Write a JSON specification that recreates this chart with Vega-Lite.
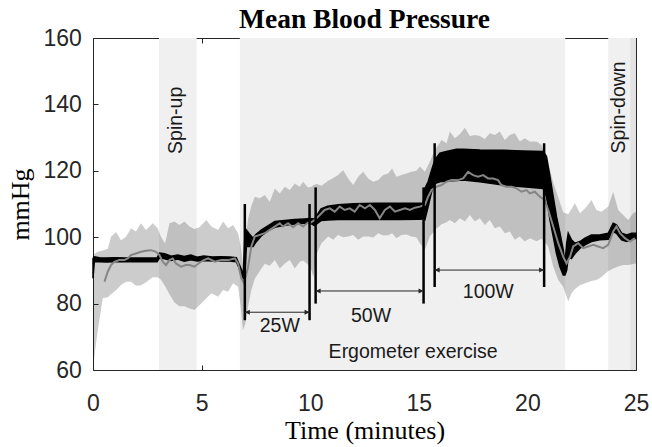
{
  "$schema": "https://vega.github.io/schema/vega-lite/v6.json",
  "width": 543,
  "height": 332,
  "autosize": "none",
  "padding": {"left": 93, "top": 38, "right": 16, "bottom": 77},
  "background": "white",
  "title": {"text": "Mean Blood Pressure", "font": "Liberation Serif", "fontSize": 27.5, "fontWeight": "bold", "color": "black", "anchor": "middle", "frame": "group", "baseline": "alphabetic", "offset": 9, "dy": 37},
  "config": {
    "view": {"stroke": null},
    "axis": {"domainColor": "#262626", "tickColor": "#262626", "labelColor": "#262626", "labelFont": "Liberation Sans", "labelFontSize": 23, "titleFont": "Liberation Serif", "titleFontSize": 26, "titleFontWeight": "normal", "titleColor": "black", "grid": false, "tickSize": -5, "domainWidth": 1, "tickWidth": 1, "labelFlush": false}
  },
  "datasets": {
    "bg": [
      {"a": 3.04, "b": 4.77, "kind": "phase"},
      {"a": 6.76, "b": 21.74, "kind": "phase"},
      {"a": 23.72, "b": 25, "kind": "phase"},
      {"a": 24.74, "b": 25, "kind": "overlap"}
    ],
    "band": [
      {"t": 0.0, "lo": 60.0, "hi": 94.6}, {"t": 0.1, "lo": 66.0, "hi": 95.2}, {"t": 0.22, "lo": 72.0, "hi": 95.6}, {"t": 0.45, "lo": 81.6, "hi": 96.0},
      {"t": 0.68, "lo": 81.9, "hi": 96.5}, {"t": 0.83, "lo": 82.8, "hi": 100.1}, {"t": 1.06, "lo": 84.0, "hi": 101.6}, {"t": 1.29, "lo": 85.6, "hi": 99.1},
      {"t": 1.52, "lo": 86.6, "hi": 100.1}, {"t": 1.75, "lo": 86.6, "hi": 102.7}, {"t": 1.98, "lo": 85.4, "hi": 101.7}, {"t": 2.21, "lo": 85.5, "hi": 104.2},
      {"t": 2.44, "lo": 86.4, "hi": 102.2}, {"t": 2.75, "lo": 87.9, "hi": 104.2}, {"t": 2.98, "lo": 87.9, "hi": 102.7}, {"t": 3.13, "lo": 87.2, "hi": 100.1},
      {"t": 3.32, "lo": 85.2, "hi": 98.1}, {"t": 3.52, "lo": 82.8, "hi": 104.2}, {"t": 3.75, "lo": 80.3, "hi": 104.7}, {"t": 3.98, "lo": 79.2, "hi": 103.7},
      {"t": 4.21, "lo": 79.2, "hi": 104.7}, {"t": 4.44, "lo": 78.5, "hi": 103.2}, {"t": 4.67, "lo": 78.1, "hi": 102.5}, {"t": 4.9, "lo": 79.5, "hi": 103.0},
      {"t": 5.22, "lo": 81.6, "hi": 105.2}, {"t": 5.45, "lo": 83.1, "hi": 103.2}, {"t": 5.76, "lo": 82.1, "hi": 102.2}, {"t": 5.99, "lo": 84.1, "hi": 104.7},
      {"t": 6.22, "lo": 83.6, "hi": 102.7}, {"t": 6.45, "lo": 86.1, "hi": 103.7}, {"t": 6.68, "lo": 85.1, "hi": 101.2}, {"t": 6.8, "lo": 79.1, "hi": 97.5},
      {"t": 6.9, "lo": 72.0, "hi": 92.0}, {"t": 7.02, "lo": 74.1, "hi": 100.0}, {"t": 7.14, "lo": 79.1, "hi": 105.5}, {"t": 7.29, "lo": 84.1, "hi": 109.5},
      {"t": 7.45, "lo": 87.5, "hi": 112.2}, {"t": 7.68, "lo": 89.8, "hi": 111.7}, {"t": 7.91, "lo": 92.0, "hi": 112.7}, {"t": 8.14, "lo": 91.4, "hi": 110.7},
      {"t": 8.37, "lo": 93.1, "hi": 114.7}, {"t": 8.6, "lo": 90.6, "hi": 113.2}, {"t": 8.83, "lo": 92.1, "hi": 115.2}, {"t": 9.06, "lo": 93.1, "hi": 114.2},
      {"t": 9.29, "lo": 90.6, "hi": 116.2}, {"t": 9.52, "lo": 92.6, "hi": 115.2}, {"t": 9.67, "lo": 93.0, "hi": 116.7}, {"t": 9.9, "lo": 91.8, "hi": 115.0},
      {"t": 10.06, "lo": 90.0, "hi": 115.2}, {"t": 10.15, "lo": 88.0, "hi": 115.7}, {"t": 10.3, "lo": 95.0, "hi": 116.0}, {"t": 10.52, "lo": 98.2, "hi": 115.5},
      {"t": 10.83, "lo": 100.2, "hi": 117.0}, {"t": 11.06, "lo": 99.2, "hi": 117.8}, {"t": 11.28, "lo": 100.7, "hi": 118.7}, {"t": 11.52, "lo": 100.0, "hi": 120.2},
      {"t": 11.75, "lo": 100.2, "hi": 117.7}, {"t": 11.98, "lo": 100.7, "hi": 115.7}, {"t": 12.21, "lo": 99.2, "hi": 118.2}, {"t": 12.44, "lo": 100.2, "hi": 119.7},
      {"t": 12.67, "lo": 100.2, "hi": 117.7}, {"t": 12.9, "lo": 99.9, "hi": 116.7}, {"t": 13.13, "lo": 101.2, "hi": 117.2}, {"t": 13.36, "lo": 100.5, "hi": 118.7},
      {"t": 13.59, "lo": 100.6, "hi": 119.2}, {"t": 13.77, "lo": 101.2, "hi": 120.7}, {"t": 13.97, "lo": 99.7, "hi": 118.2}, {"t": 14.2, "lo": 100.7, "hi": 118.7},
      {"t": 14.43, "lo": 100.8, "hi": 119.2}, {"t": 14.66, "lo": 100.2, "hi": 119.7}, {"t": 14.89, "lo": 100.0, "hi": 120.0}, {"t": 15.05, "lo": 98.2, "hi": 121.3},
      {"t": 15.28, "lo": 96.2, "hi": 119.7}, {"t": 15.51, "lo": 100.2, "hi": 122.8}, {"t": 15.74, "lo": 102.2, "hi": 126.3}, {"t": 16.05, "lo": 103.9, "hi": 129.3},
      {"t": 16.28, "lo": 104.5, "hi": 128.3}, {"t": 16.43, "lo": 105.2, "hi": 131.8}, {"t": 16.66, "lo": 104.2, "hi": 129.8}, {"t": 16.89, "lo": 105.7, "hi": 131.0},
      {"t": 17.12, "lo": 104.7, "hi": 133.0}, {"t": 17.35, "lo": 106.7, "hi": 130.5}, {"t": 17.58, "lo": 104.7, "hi": 130.8}, {"t": 17.81, "lo": 105.7, "hi": 130.5},
      {"t": 18.04, "lo": 103.7, "hi": 129.6}, {"t": 18.27, "lo": 105.2, "hi": 131.3}, {"t": 18.5, "lo": 102.7, "hi": 130.8}, {"t": 18.73, "lo": 103.2, "hi": 131.8},
      {"t": 18.96, "lo": 101.2, "hi": 129.3}, {"t": 19.19, "lo": 101.7, "hi": 130.8}, {"t": 19.42, "lo": 99.2, "hi": 131.3}, {"t": 19.65, "lo": 100.2, "hi": 128.8},
      {"t": 19.88, "lo": 98.7, "hi": 129.8}, {"t": 20.11, "lo": 99.7, "hi": 128.8}, {"t": 20.42, "lo": 98.8, "hi": 128.8}, {"t": 20.65, "lo": 99.5, "hi": 127.8},
      {"t": 20.8, "lo": 98.5, "hi": 125.3}, {"t": 20.96, "lo": 97.2, "hi": 122.3}, {"t": 21.19, "lo": 91.1, "hi": 116.5}, {"t": 21.42, "lo": 87.1, "hi": 112.0},
      {"t": 21.65, "lo": 85.1, "hi": 107.5}, {"t": 21.88, "lo": 80.6, "hi": 106.9}, {"t": 22.03, "lo": 83.1, "hi": 108.5}, {"t": 22.19, "lo": 84.4, "hi": 110.2},
      {"t": 22.42, "lo": 85.5, "hi": 107.2}, {"t": 22.72, "lo": 86.3, "hi": 109.2}, {"t": 22.95, "lo": 86.8, "hi": 111.2}, {"t": 23.18, "lo": 87.1, "hi": 108.2},
      {"t": 23.41, "lo": 88.0, "hi": 107.7}, {"t": 23.72, "lo": 89.8, "hi": 109.2}, {"t": 23.95, "lo": 90.6, "hi": 113.7}, {"t": 24.18, "lo": 91.2, "hi": 108.2},
      {"t": 24.41, "lo": 91.6, "hi": 106.7}, {"t": 24.64, "lo": 91.6, "hi": 105.2}, {"t": 24.87, "lo": 91.9, "hi": 107.2}, {"t": 25.0, "lo": 92.1, "hi": 107.7}
    ],
    "mean": [
      {"t": 0.53, "v": 86.6}, {"t": 0.6, "v": 88.1}, {"t": 0.68, "v": 89.6}, {"t": 0.83, "v": 91.6}, {"t": 0.98, "v": 92.6}, {"t": 1.21, "v": 93.1},
      {"t": 1.44, "v": 93.1}, {"t": 1.6, "v": 93.6}, {"t": 1.75, "v": 94.6}, {"t": 1.98, "v": 95.1}, {"t": 2.21, "v": 95.6}, {"t": 2.44, "v": 95.9},
      {"t": 2.67, "v": 96.1}, {"t": 2.9, "v": 95.6}, {"t": 3.06, "v": 94.6}, {"t": 3.21, "v": 92.6}, {"t": 3.36, "v": 91.6}, {"t": 3.52, "v": 93.1},
      {"t": 3.67, "v": 93.6}, {"t": 3.82, "v": 92.1}, {"t": 4.05, "v": 91.1}, {"t": 4.28, "v": 91.6}, {"t": 4.44, "v": 91.6}, {"t": 4.67, "v": 91.1},
      {"t": 4.9, "v": 92.3}, {"t": 5.1, "v": 93.1}, {"t": 5.3, "v": 93.6}, {"t": 5.61, "v": 92.6}, {"t": 5.91, "v": 93.1}, {"t": 6.22, "v": 93.1},
      {"t": 6.53, "v": 93.6}, {"t": 6.68, "v": 92.1}, {"t": 6.83, "v": 87.6}, {"t": 6.96, "v": 86.1}, {"t": 7.14, "v": 91.1}, {"t": 7.29, "v": 97.2},
      {"t": 7.45, "v": 100.2}, {"t": 7.68, "v": 100.7}, {"t": 7.91, "v": 101.2}, {"t": 8.14, "v": 102.2}, {"t": 8.37, "v": 103.2}, {"t": 8.6, "v": 104.2},
      {"t": 8.75, "v": 103.2}, {"t": 8.98, "v": 104.2}, {"t": 9.21, "v": 103.0}, {"t": 9.44, "v": 104.2}, {"t": 9.67, "v": 103.2}, {"t": 9.9, "v": 104.4},
      {"t": 9.98, "v": 104.2}, {"t": 10.21, "v": 105.2}, {"t": 10.44, "v": 106.7}, {"t": 10.67, "v": 108.2}, {"t": 10.9, "v": 108.7}, {"t": 11.13, "v": 107.7},
      {"t": 11.36, "v": 109.2}, {"t": 11.59, "v": 108.2}, {"t": 11.82, "v": 108.7}, {"t": 12.05, "v": 107.7}, {"t": 12.28, "v": 109.7}, {"t": 12.52, "v": 108.7},
      {"t": 12.75, "v": 109.7}, {"t": 12.98, "v": 108.2}, {"t": 13.2, "v": 105.7}, {"t": 13.44, "v": 108.2}, {"t": 13.67, "v": 109.2}, {"t": 13.9, "v": 107.7},
      {"t": 14.13, "v": 108.2}, {"t": 14.36, "v": 108.7}, {"t": 14.59, "v": 108.2}, {"t": 14.82, "v": 108.9}, {"t": 15.05, "v": 109.2}, {"t": 15.28, "v": 109.7},
      {"t": 15.43, "v": 112.2}, {"t": 15.59, "v": 114.2}, {"t": 15.81, "v": 115.2}, {"t": 16.05, "v": 115.7}, {"t": 16.28, "v": 116.7}, {"t": 16.51, "v": 117.2},
      {"t": 16.81, "v": 117.2}, {"t": 17.04, "v": 117.7}, {"t": 17.27, "v": 119.7}, {"t": 17.5, "v": 118.7}, {"t": 17.73, "v": 118.2}, {"t": 17.96, "v": 118.7},
      {"t": 18.19, "v": 117.7}, {"t": 18.42, "v": 117.7}, {"t": 18.65, "v": 117.2}, {"t": 18.8, "v": 115.7}, {"t": 19.04, "v": 115.2}, {"t": 19.27, "v": 115.2},
      {"t": 19.5, "v": 114.7}, {"t": 19.73, "v": 113.7}, {"t": 19.96, "v": 114.2}, {"t": 20.11, "v": 113.2}, {"t": 20.34, "v": 113.7}, {"t": 20.57, "v": 112.2},
      {"t": 20.8, "v": 111.2}, {"t": 20.96, "v": 108.2}, {"t": 21.19, "v": 103.2}, {"t": 21.42, "v": 98.2}, {"t": 21.65, "v": 94.1}, {"t": 21.8, "v": 92.1},
      {"t": 21.96, "v": 94.1}, {"t": 22.11, "v": 97.2}, {"t": 22.34, "v": 98.2}, {"t": 22.57, "v": 96.7}, {"t": 22.8, "v": 97.2}, {"t": 23.03, "v": 97.7},
      {"t": 23.26, "v": 97.2}, {"t": 23.49, "v": 96.7}, {"t": 23.72, "v": 97.7}, {"t": 23.95, "v": 101.7}, {"t": 24.1, "v": 103.2}, {"t": 24.26, "v": 101.2},
      {"t": 24.49, "v": 99.7}, {"t": 24.72, "v": 98.7}, {"t": 24.95, "v": 99.7}
    ],
    "model": [
      {"t": 0.0, "lo": 87.6, "hi": 93.6}, {"t": 0.06, "lo": 92.6, "hi": 94.1}, {"t": 0.3, "lo": 92.6, "hi": 93.8}, {"t": 0.6, "lo": 92.5, "hi": 93.7},
      {"t": 1.0, "lo": 92.6, "hi": 93.8}, {"t": 1.5, "lo": 92.6, "hi": 93.7}, {"t": 2.0, "lo": 92.6, "hi": 93.7}, {"t": 2.5, "lo": 92.6, "hi": 93.7},
      {"t": 2.95, "lo": 92.6, "hi": 93.7}, {"t": 3.06, "lo": 93.8, "hi": 95.2}, {"t": 3.3, "lo": 93.5, "hi": 95.0}, {"t": 3.6, "lo": 93.0, "hi": 94.3},
      {"t": 3.9, "lo": 93.4, "hi": 94.6}, {"t": 4.2, "lo": 92.8, "hi": 94.2}, {"t": 4.5, "lo": 93.2, "hi": 94.6}, {"t": 4.8, "lo": 92.8, "hi": 94.0},
      {"t": 5.1, "lo": 93.0, "hi": 94.3}, {"t": 5.5, "lo": 92.8, "hi": 94.0}, {"t": 5.9, "lo": 92.9, "hi": 94.1}, {"t": 6.3, "lo": 92.8, "hi": 94.0},
      {"t": 6.6, "lo": 92.6, "hi": 93.8}, {"t": 6.8, "lo": 89.6, "hi": 90.8}, {"t": 6.92, "lo": 87.6, "hi": 88.8}, {"t": 6.99, "lo": 88.0, "hi": 100.0},
      {"t": 7.06, "lo": 97.2, "hi": 102.2}, {"t": 7.2, "lo": 97.2, "hi": 101.0}, {"t": 7.37, "lo": 97.2, "hi": 99.7}, {"t": 7.5, "lo": 98.5, "hi": 100.8},
      {"t": 7.76, "lo": 100.5, "hi": 102.2}, {"t": 8.07, "lo": 102.0, "hi": 103.5}, {"t": 8.37, "lo": 103.0, "hi": 104.7}, {"t": 8.83, "lo": 103.6, "hi": 105.0},
      {"t": 9.29, "lo": 104.0, "hi": 105.3}, {"t": 9.75, "lo": 104.2, "hi": 105.5}, {"t": 9.97, "lo": 104.3, "hi": 105.6}, {"t": 10.2, "lo": 103.5, "hi": 105.5},
      {"t": 10.3, "lo": 104.0, "hi": 106.5}, {"t": 10.5, "lo": 105.0, "hi": 108.5}, {"t": 10.8, "lo": 105.2, "hi": 109.3}, {"t": 11.3, "lo": 105.3, "hi": 109.8},
      {"t": 12.0, "lo": 105.3, "hi": 110.1}, {"t": 13.0, "lo": 105.3, "hi": 110.2}, {"t": 14.0, "lo": 105.3, "hi": 110.2}, {"t": 15.0, "lo": 105.4, "hi": 110.2},
      {"t": 15.2, "lo": 105.5, "hi": 110.3}, {"t": 15.28, "lo": 105.2, "hi": 114.7}, {"t": 15.43, "lo": 109.2, "hi": 116.7}, {"t": 15.59, "lo": 113.7, "hi": 120.2},
      {"t": 15.74, "lo": 116.2, "hi": 123.3}, {"t": 15.97, "lo": 116.7, "hi": 125.3}, {"t": 16.27, "lo": 116.9, "hi": 125.8}, {"t": 16.74, "lo": 117.1, "hi": 126.5},
      {"t": 17.04, "lo": 117.2, "hi": 126.5}, {"t": 17.81, "lo": 116.7, "hi": 126.3}, {"t": 18.88, "lo": 115.7, "hi": 126.2}, {"t": 19.8, "lo": 115.2, "hi": 126.0},
      {"t": 20.73, "lo": 114.7, "hi": 125.8}, {"t": 20.88, "lo": 112.2, "hi": 124.3}, {"t": 21.04, "lo": 105.2, "hi": 118.2}, {"t": 21.19, "lo": 100.2, "hi": 112.2},
      {"t": 21.34, "lo": 95.1, "hi": 106.2}, {"t": 21.5, "lo": 91.1, "hi": 101.2}, {"t": 21.65, "lo": 88.6, "hi": 96.2}, {"t": 21.73, "lo": 88.6, "hi": 92.1},
      {"t": 21.81, "lo": 90.1, "hi": 98.2}, {"t": 21.88, "lo": 94.1, "hi": 101.2}, {"t": 22.03, "lo": 93.6, "hi": 99.2}, {"t": 22.19, "lo": 95.1, "hi": 98.2},
      {"t": 22.42, "lo": 96.7, "hi": 98.7}, {"t": 22.65, "lo": 97.7, "hi": 99.7}, {"t": 22.95, "lo": 98.7, "hi": 100.7}, {"t": 23.33, "lo": 99.2, "hi": 100.7},
      {"t": 23.72, "lo": 99.4, "hi": 101.2}, {"t": 23.95, "lo": 101.7, "hi": 104.2}, {"t": 24.1, "lo": 101.2, "hi": 103.7}, {"t": 24.34, "lo": 99.2, "hi": 101.2},
      {"t": 24.57, "lo": 98.7, "hi": 100.7}, {"t": 24.8, "lo": 99.2, "hi": 101.2}, {"t": 25.0, "lo": 99.7, "hi": 101.2}
    ],
    "marks": [
      {"t": 6.99, "y0": 75.0, "y1": 110.0}, {"t": 9.97, "y0": 75.0, "y1": 110.0}, {"t": 10.25, "y0": 80.0, "y1": 115.0},
      {"t": 15.22, "y0": 80.0, "y1": 115.0}, {"t": 15.73, "y0": 85.0, "y1": 128.3}, {"t": 20.77, "y0": 85.0, "y1": 128.3}
    ],
    "arrows": [
      {"a": 6.99, "b": 9.97, "y": 77.4}, {"a": 10.25, "b": 15.22, "y": 83.8}, {"a": 15.73, "b": 20.77, "y": 90.1}
    ],
    "labels": [
      {"text": "25W", "t": 8.6, "v": 73.4}, {"text": "50W", "t": 12.8, "v": 76.4}, {"text": "100W", "t": 18.2, "v": 83.5},
      {"text": "Ergometer exercise", "t": 14.74, "v": 65.4}
    ],
    "vlabels": [
      {"text": "Spin-up", "t": 3.8, "v": 135.2}, {"text": "Spin-down", "t": 24.2, "v": 139.1}
    ]
  },
  "resolve": {"axis": {"x": "independent", "y": "independent"}},
  "layer": [
    {
      "data": {"name": "bg"},
      "mark": {"type": "rect"},
      "encoding": {
        "x": {"field": "a", "type": "quantitative", "scale": {"domain": [0, 25], "nice": false, "zero": false}, "axis": null},
        "x2": {"field": "b"},
        "color": {"field": "kind", "type": "nominal", "scale": {"domain": ["phase", "overlap"], "range": ["#f0f0f0", "#e2e2e2"]}, "legend": null}
      }
    },
    {
      "data": {"name": "band"},
      "mark": {"type": "area", "fill": "#000000", "fillOpacity": 0.2},
      "encoding": {
        "x": {"field": "t", "type": "quantitative", "scale": {"domain": [0, 25], "nice": false, "zero": false},
              "axis": {"orient": "bottom", "values": [0, 5, 10, 15, 20, 25], "labelPadding": 27, "title": "Time (minutes)", "titleY": 68, "titleBaseline": "alphabetic"}},
        "y": {"field": "lo", "type": "quantitative", "scale": {"domain": [60, 160], "nice": false, "zero": false},
              "axis": {"orient": "left", "values": [60, 80, 100, 120, 140, 160], "labelPadding": 16.6, "title": "mmHg", "titleX": -64.5, "titleY": 166, "titleBaseline": "alphabetic", "titleAngle": 270, "titleAlign": "center"}},
        "y2": {"field": "hi"}
      }
    },
    {
      "data": {"name": "model"},
      "mark": {"type": "area", "fill": "#000000", "stroke": "#000000", "strokeWidth": 1.5},
      "encoding": {
        "x": {"field": "t", "type": "quantitative", "axis": {"orient": "top", "values": [0, 5, 10, 15, 20, 25], "labels": false, "title": null}},
        "y": {"field": "lo", "type": "quantitative", "axis": {"orient": "right", "values": [60, 80, 100, 120, 140, 160], "labels": false, "title": null}},
        "y2": {"field": "hi"}
      }
    },
    {
      "data": {"name": "mean"},
      "mark": {"type": "line", "stroke": "#858585", "strokeWidth": 2},
      "encoding": {
        "x": {"field": "t", "type": "quantitative", "axis": null},
        "y": {"field": "v", "type": "quantitative", "axis": null}
      }
    },
    {
      "data": {"name": "marks"},
      "mark": {"type": "rule", "stroke": "#000000", "strokeWidth": 2.5},
      "encoding": {
        "x": {"field": "t", "type": "quantitative", "axis": null},
        "y": {"field": "y0", "type": "quantitative", "axis": null},
        "y2": {"field": "y1"}
      }
    },
    {
      "data": {"name": "arrows"},
      "mark": {"type": "rule", "stroke": "#262626", "strokeWidth": 1},
      "encoding": {
        "x": {"field": "a", "type": "quantitative", "axis": null},
        "x2": {"field": "b"},
        "y": {"field": "y", "type": "quantitative", "axis": null}
      }
    },
    {
      "data": {"name": "arrows"},
      "mark": {"type": "point", "shape": "M1,-0.5L0,0L1,0.5Z", "filled": true, "fill": "#262626", "size": 100, "opacity": 1},
      "encoding": {
        "x": {"field": "a", "type": "quantitative", "axis": null},
        "y": {"field": "y", "type": "quantitative", "axis": null}
      }
    },
    {
      "data": {"name": "arrows"},
      "mark": {"type": "point", "shape": "M-1,-0.5L0,0L-1,0.5Z", "filled": true, "fill": "#262626", "size": 100, "opacity": 1},
      "encoding": {
        "x": {"field": "b", "type": "quantitative", "axis": null},
        "y": {"field": "y", "type": "quantitative", "axis": null}
      }
    },
    {
      "data": {"name": "labels"},
      "mark": {"type": "text", "font": "Liberation Sans", "fontSize": 19.5, "fill": "#1a1a1a", "align": "center", "baseline": "middle"},
      "encoding": {
        "x": {"field": "t", "type": "quantitative", "axis": null},
        "y": {"field": "v", "type": "quantitative", "axis": null},
        "text": {"field": "text"}
      }
    },
    {
      "data": {"name": "vlabels"},
      "mark": {"type": "text", "font": "Liberation Sans", "fontSize": 19.5, "fill": "#1a1a1a", "align": "center", "baseline": "middle", "angle": 270},
      "encoding": {
        "x": {"field": "t", "type": "quantitative", "axis": null},
        "y": {"field": "v", "type": "quantitative", "axis": null},
        "text": {"field": "text"}
      }
    }
  ]
}
